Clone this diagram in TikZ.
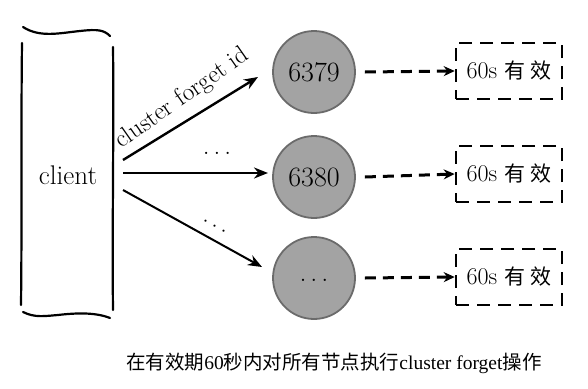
\documentclass[tikz,border=0pt]{standalone}
\usepackage{fontspec}
\newfontfamily\cjk{Noto Sans CJK SC}
\newfontfamily\capfont{Liberation Serif}
\usetikzlibrary{arrows.meta}
\newcommand{\mydots}{.\hspace{4pt}.\hspace{4pt}.}
\begin{document}
\begin{tikzpicture}[x=1pt,y=-1pt,
  brk/.style={line width=2.2pt,line cap=round},
  srv/.style={circle,draw=black!58,line width=1.8pt,fill=black!36,minimum size=82pt,inner sep=0pt,font=\fontsize{28}{28}\selectfont},
  ttl/.style={draw,line width=2.6pt,dash pattern=on 13pt off 8pt,minimum width=106pt,minimum height=56pt,inner sep=0pt,font=\fontsize{24}{24}\selectfont},
  req/.style={line width=2.4pt,-{Stealth[length=14pt,width=11pt]}},
  rep/.style={line width=3pt,dash pattern=on 11pt off 7pt,-{Stealth[length=11pt,width=10pt]}},
  dotlbl/.style={font=\fontsize{27}{27}\selectfont,inner sep=0pt}]
\useasboundingbox (0,0) rectangle (588,388);
% client
\node[minimum width=90pt,minimum height=260pt,inner sep=0pt,font=\fontsize{27}{27}\selectfont] (client) at (68,175) {client};
\draw[brk] (22,43) .. controls (21,120) and (22,220) .. (21,305);
\draw[brk] (113,47) .. controls (114,130) and (112,230) .. (113,310);
\draw[brk] (23,27) .. controls (40,38) and (60,33) .. (80,31) .. controls (98,29) and (104,30) .. (110,36);
\draw[brk] (23,312) .. controls (35,318) and (45,316) .. (58,315) .. controls (75,313) and (95,312) .. (110,318);
% servers
\node[srv] (n1) at (314,72) {6379};
\node[srv] (n2) at (314,177) {6380};
\node[srv] (n3) at (314,278) {\raisebox{-6pt}{\mydots}};
% boxes
\node[ttl] (b1) at (509,71) {60s {\cjk\fontsize{21}{21}\selectfont 有 效}};
\node[ttl] (b2) at (509,174) {60s {\cjk\fontsize{21}{21}\selectfont 有 效}};
\node[ttl] (b3) at (509,277) {60s {\cjk\fontsize{21}{21}\selectfont 有 效}};
% start and end points
\coordinate (s1) at (123,160);
\coordinate (s2) at (123,173);
\coordinate (s3) at (123,190);
\coordinate (e1) at (258,77);
\coordinate (e2) at (268,173);
\coordinate (e3) at (262,267);
\draw[req] (s1) -- (e1);
\node[font=\fontsize{25}{25}\selectfont,rotate=35,anchor=base west,inner sep=0pt] (lbl) at (121,149) {cluster forget id};
\draw[req] (s2) -- (e2);
\node[dotlbl] (d2l) at (217,153) {\mydots};
\draw[req,line width=2pt] (s3) -- (e3);
\node[dotlbl,rotate=-29] (d3l) at (215,226) {\mydots};
\draw[rep] (n1.east) ++(9pt,0) coordinate (d1) (d1) -- (b1.west);
\draw[rep] (n2.east) ++(9pt,0) coordinate (d2) (d2) -- (b2.west);
\draw[rep] (n3.east) ++(9pt,0) coordinate (d3) (d3) -- (b3.west);
% caption
\node[font=\fontsize{19.5}{20}\selectfont] (cap) at (334,363) {{\cjk 在有效期}\capfont 60{\cjk 秒内对所有节点执行}cluster forget{\cjk 操作}};
\end{tikzpicture}
\end{document}
